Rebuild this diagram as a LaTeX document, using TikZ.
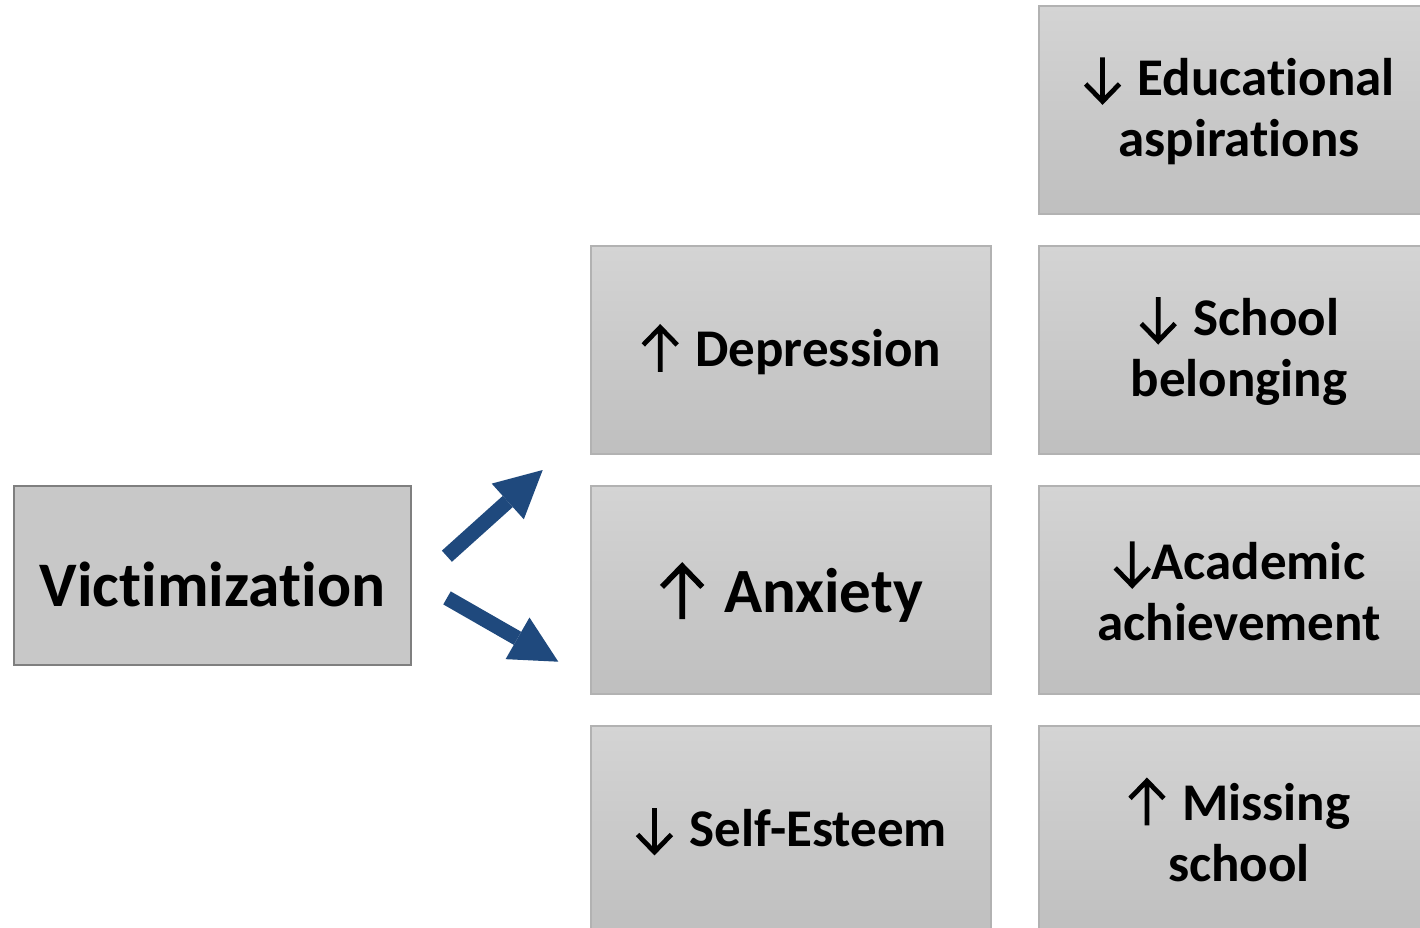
\documentclass[tikz,border=0pt]{standalone}
\usepackage{fontspec}
\setmainfont[Ligatures=CommonOff]{Carlito}
\usetikzlibrary{arrows.meta}
\definecolor{gborder}{HTML}{B2B2B2}
\definecolor{gtop}{HTML}{D4D4D4}
\definecolor{gbot}{HTML}{BFBFBF}
\definecolor{vfill}{HTML}{C8C8C8}
\definecolor{vborder}{HTML}{7F7F7F}
\definecolor{arrblue}{HTML}{1F497D}
\newcommand{\uparr}{\tikz[baseline=0pt]{\draw[line width=0.09em, line join=miter] (0,-0.10em) -- (0,0.74em) (-0.32em,0.41em) -- (0,0.74em) -- (0.32em,0.41em);}}
\newcommand{\dnarr}{\tikz[baseline=0pt]{\draw[line width=0.09em, line join=miter] (0,0.72em) -- (0,-0.11em) (-0.32em,0.22em) -- (0,-0.11em) -- (0.32em,0.22em);}}
\newcommand{\gap}{\hspace{0.3em}}
\begin{document}
\begin{tikzpicture}[x=1pt,y=-1pt,
  gbox/.style={draw=gborder, line width=1.5pt, top color=gtop, bottom color=gbot,
    minimum width=400pt, minimum height=208pt, inner sep=0pt, align=center,
    font=\bfseries\fontsize{53}{61}\selectfont},
  vbox/.style={draw=vborder, line width=2.5pt, fill=vfill,
    minimum width=397pt, minimum height=179pt, inner sep=0pt,
    font=\bfseries\fontsize{63.5}{70}\selectfont},
  bigarrow/.style={draw=arrblue, line width=15pt,
    -{Triangle[length=47pt, width=48pt, line width=0pt]}}]
\useasboundingbox (0,0) rectangle (1420,927);
\clip (0,0) rectangle (1420,927);
\node[vbox] (vict) at (212.5,575.5) {};
\node at ([yshift=-9pt]vict.center) [font=\bfseries\fontsize{63.5}{70}\selectfont, inner sep=0pt] (victtext) {Victimization};
\node[gbox] (dep) at (791,350) {\uparr\gap Depression};
\node[gbox, font=\bfseries\fontsize{63}{70}\selectfont] (anx) at (791,590) {};
\node at ([yshift=-3pt]anx.center) [font=\bfseries\fontsize{63}{70}\selectfont, inner sep=0pt] (anxtext) {\uparr\gap Anxiety};
\node[gbox] (self) at (791,830) {\dnarr\gap Self-Esteem};
\node[gbox] (edu) at (1239,110) {\dnarr\gap Educational\\aspirations};
\node[gbox] (belong) at (1239,350) {\dnarr\gap School\\belonging};
\node[gbox] (acad) at (1239,590) {\dnarr Academic\\achievement};
\node[gbox] (miss) at (1239,830) {\uparr\gap Missing\\school};
\coordinate (a1s) at (446.9,556.2);
\coordinate (a1e) at (542.7,470);
\coordinate (a2s) at (447,597.9);
\coordinate (a2e) at (558.3,661.7);
\draw[bigarrow] (a1s) -- (a1e);
\draw[bigarrow] (a2s) -- (a2e);
\end{tikzpicture}
\end{document}
